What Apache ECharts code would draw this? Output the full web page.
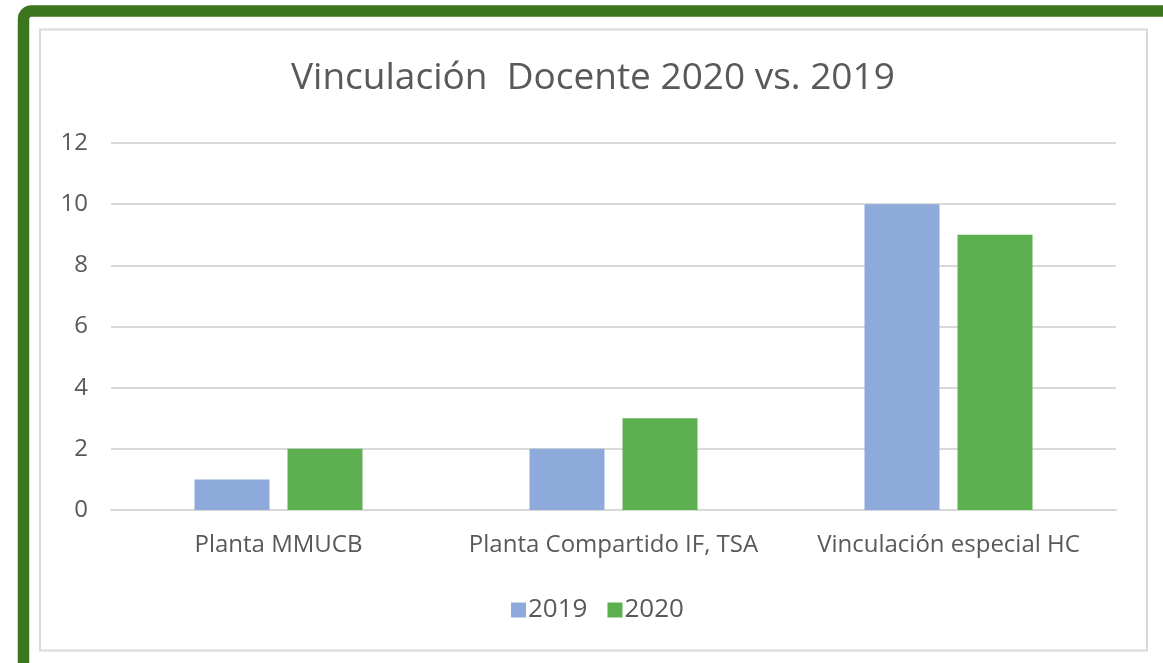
<!DOCTYPE html>
<html>
<head>
<meta charset="utf-8">
<script src="https://cdn.jsdelivr.net/npm/echarts@6/dist/echarts.min.js"></script>
<style>
html,body{margin:0;padding:0;background:#fff;}
#chart{width:1163px;height:663px;}
</style>
</head>
<body>
<div id="chart"></div>
<script>
const categories = ['Planta MMUCB', 'Planta Compartido IF, TSA', 'Vinculación especial HC'];
const values2019 = [1, 2, 10];
const values2020 = [2, 3, 9];
const seriesNames = ['2019', '2020'];
const titleText = 'Vinculación  Docente 2020 vs. 2019';

const FONT = 'Open Sans';
const TEXT = '#595959';
const chart = echarts.init(document.getElementById('chart'), null, {renderer: 'canvas'});
chart.setOption({
  backgroundColor: '#ffffff',
  animation: false,
  title: {
    text: titleText,
    left: 286,
    top: 55,
    textStyle: {fontFamily: FONT, fontSize: 37, fontWeight: 'normal', color: TEXT}
  },
  legend: {
    data: seriesNames,
    top: 592,
    left: 506,
    itemWidth: 15,
    itemHeight: 15,
    itemGap: 20,
    icon: 'rect',
    textStyle: {fontFamily: FONT, fontSize: 26, color: TEXT, padding: [0,0,0,-3]}
  },
  grid: {left: 111, right: 47, top: 143, bottom: 153, containLabel: false},
  xAxis: {
    type: 'category',
    data: categories,
    axisLine: {lineStyle: {color: '#d9d9d9', width: 2}},
    axisTick: {show: false},
    axisLabel: {fontFamily: FONT, fontSize: 24, color: TEXT, margin: 23, interval: 0, hideOverlap: false}
  },
  yAxis: {
    type: 'value',
    min: 0, max: 12, interval: 2,
    axisLine: {show: false},
    axisTick: {show: false},
    splitLine: {lineStyle: {color: '#d9d9d9', width: 2}},
    axisLabel: {fontFamily: FONT, fontSize: 24, color: TEXT, margin: 23}
  },
  series: [
    {name: seriesNames[0], type: 'bar', data: values2019, barWidth: 75, barGap: '24%', itemStyle: {color: '#8eaadb'}},
    {name: seriesNames[1], type: 'bar', data: values2020, barWidth: 75, barGap: '24%', itemStyle: {color: '#5cb050'}}
  ],
  graphic: [
    {type: 'rect', silent: true, z: 100,
     shape: {x: 23.5, y: 11, width: 1200, height: 700, r: [8, 0, 0, 0]},
     style: {fill: 'none', stroke: '#3b751e', lineWidth: 11.5}},
    {type: 'rect', silent: true, z: 99,
     shape: {x: 40, y: 29.5, width: 1107, height: 621},
     style: {fill: 'none', stroke: '#d9d9d9', lineWidth: 2}}
  ]
});
</script>
</body>
</html>
